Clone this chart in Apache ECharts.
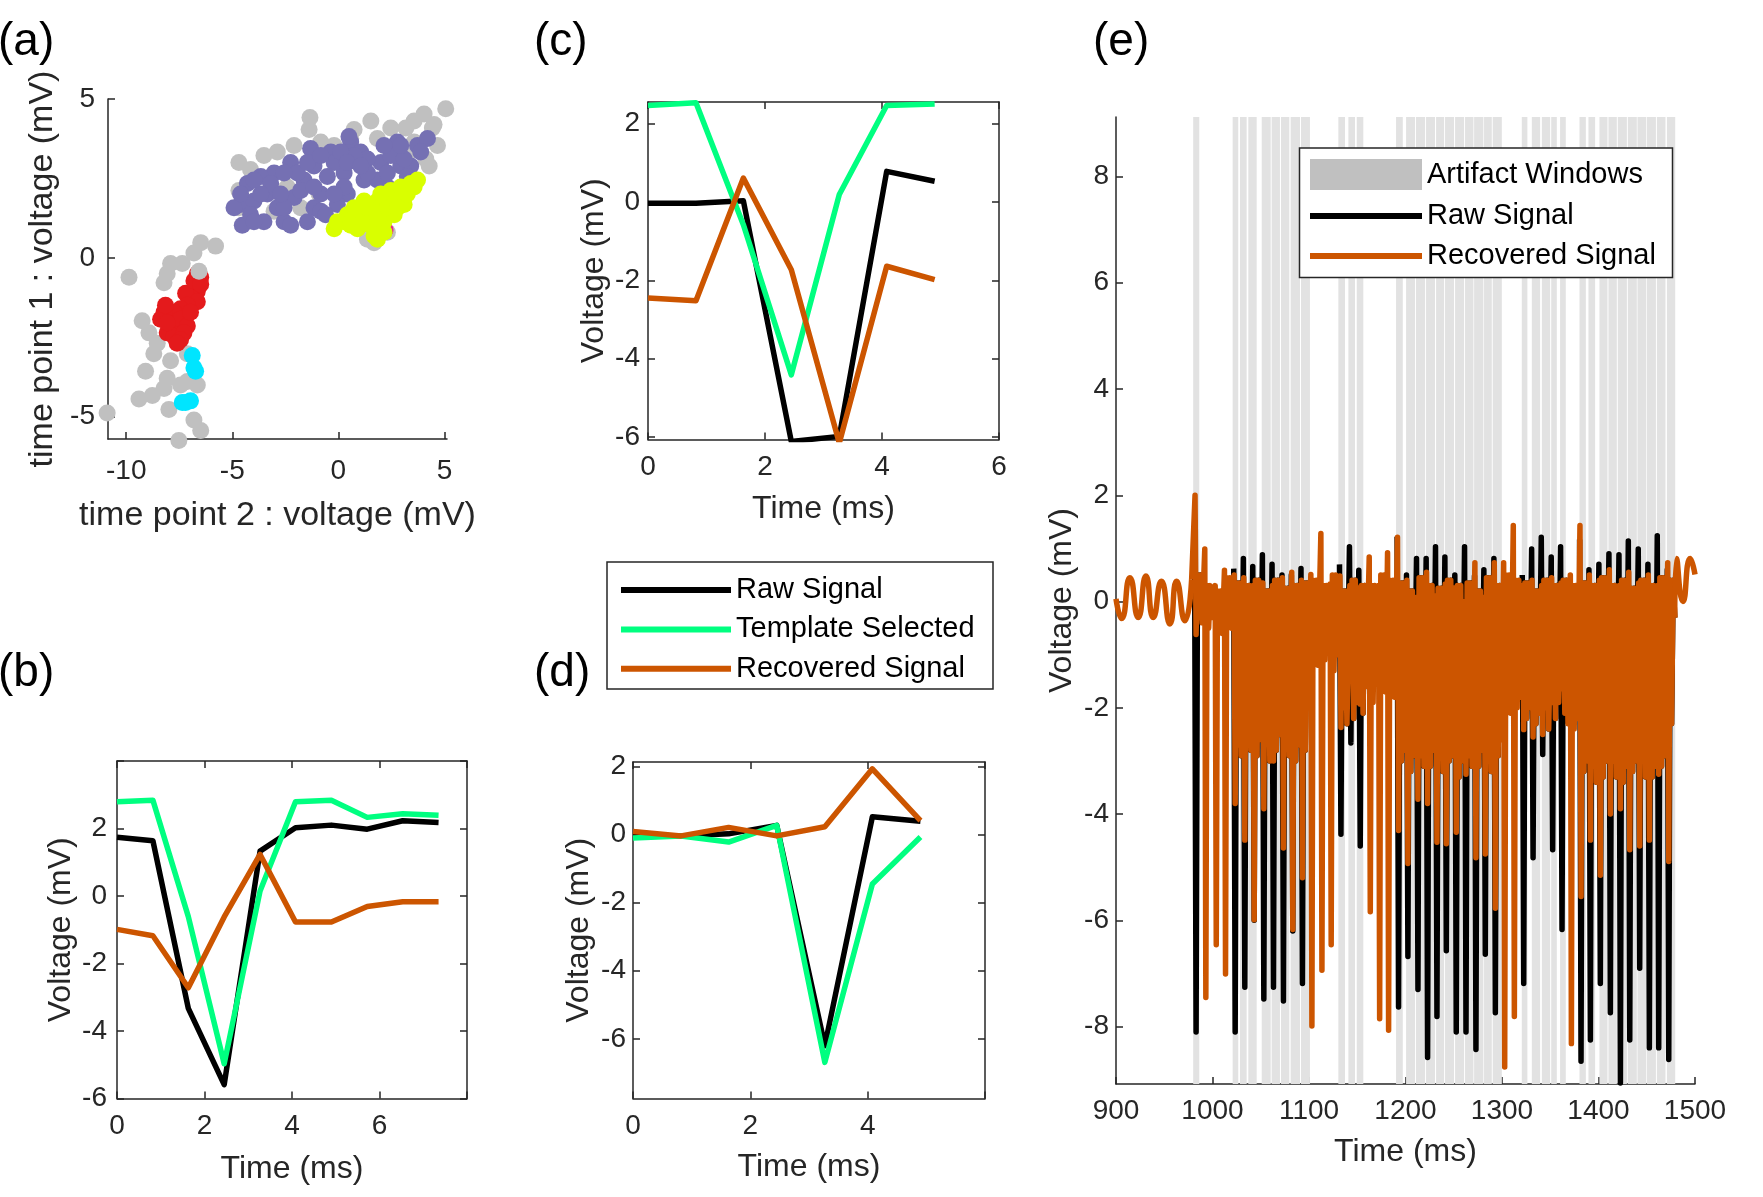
<!DOCTYPE html>
<html>
<head>
<meta charset="utf-8">
<script src="https://cdn.jsdelivr.net/npm/echarts@6/dist/echarts.min.js"></script>
<style>
html, body { margin: 0; padding: 0; background: #fff; }
#chart { width: 1763px; height: 1197px; }
</style>
</head>
<body>
<div id="chart"></div>
<script>
// ---- (a) feature space clusters: [time point 2, time point 1] in mV
var aGray = [[5.06,4.69],[4.04,4.53],[3.57,4.31],[4.43,4.09],[4.67,3.54],[4.12,3.11],[4.28,2.89],[3.57,3.65],
  [3.33,3.33],[2.47,4.09],[1.53,4.31],[0.74,4.04],[0.58,3.76],[1.84,3.76],[3.18,4.09],[4.51,4.2],[-1.34,4.42],
  [-1.38,4.04],[-0.83,3.65],[-0.2,3.54],[-2.09,3.54],[-2.88,3.33],[-3.51,3.22],[-4.69,3.0],[-4.14,2.78],
  [-4.69,1.58],[-4.69,2.12],[-1.78,1.58],[-3.03,1.47],[-2.41,2.23],[-0.91,2.01],[1.37,0.59],[2.31,0.81],
  [1.68,0.48],[-6.49,0.48],[-5.79,0.37],[-6.81,0.15],[-7.91,-0.18],[-7.36,-0.18],[-8.07,-0.5],[-8.22,-0.78],
  [-9.87,-0.61],[-9.25,-1.98],[-8.93,-2.36],[-8.54,-2.69],[-9.09,-3.57],[-7.91,-3.24],[-8.07,-3.79],
  [-6.65,-4.0],[-9.4,-4.44],[-8.77,-4.33],[-7.99,-4.77],[-10.9,-4.88],[-6.81,-5.1],[-6.49,-5.43],
  [-7.52,-5.75],[-7.44,-4.0],[-7.12,-3.89],[-8.22,-4.11],[-7.12,-3.02],[-8.7,-3.02]];
var aPurple = [[-4.53,1.03],[-4.61,1.68],[-4.29,2.34],[-3.51,1.14],[-2.56,1.14],[-3.35,2.01],[-3.98,1.79],
  [-2.88,1.58],[-2.09,1.9],[-1.15,1.58],[-0.83,1.47],[-1.62,2.45],[-2.25,3.0],[-1.31,3.44],[-0.36,3.33],
  [0.27,2.67],[0.58,3.65],[1.05,3.33],[0.42,2.01],[1.21,2.45],[2.0,3.0],[2.31,2.23],[2.94,2.89],[2.78,3.65],
  [3.73,3.54],[3.41,2.89],[4.2,3.76],[-1.93,2.67],[-3.03,2.67],[-3.66,2.56],[-2.56,1.58],[-0.2,3.0],
  [1.84,2.45],[-0.83,2.01],[-0.05,1.68],[-1.15,2.89],[-4.92,1.58],[-4.14,1.36],[-3.19,2.34],[1.37,3.11],
  [0.74,3.22],[2.47,3.22],[-0.52,2.56],
  [-3.98,1.14],[-2.25,1.03],[-1.46,1.14],[-0.6,1.36],[-4.61,2.01],[-3.66,2.01],[-2.72,2.01],[-1.78,2.12],
  [-1.15,2.23],[-3.98,2.45],[-2.56,2.67],[-1.46,3.0],[-0.83,3.22],[0.11,3.33],[0.42,3.0],[1.37,2.67],
  [2.31,2.67],[3.1,3.11],[3.88,3.33],[2.94,3.54],[0.27,2.23],[-0.2,2.01],[1.05,2.89],[3.25,2.56],
  [0.5,3.82],[2.15,3.54]];
var aPink = [[2.2,0.88]];
var aYellow = [[-0.2,0.92],[0.27,1.14],[0.74,1.25],[1.21,1.36],[1.68,1.47],[2.15,1.58],[2.63,1.79],[2.94,2.01],
  [3.41,2.34],[3.73,2.45],[0.9,0.92],[1.53,1.03],[2.15,1.14],[2.63,1.36],[3.1,1.68],[0.42,1.36],[1.84,1.79],
  [2.47,2.12],[2.94,2.23],[1.84,0.59],[2.15,0.81],[1.21,1.79],
  [-0.05,1.14],[0.58,1.03],[1.21,1.08],[1.84,1.25],[2.31,1.58],[2.78,1.58],[3.25,2.01],[3.57,2.23],
  [1.37,1.58],[2.0,2.01],[0.74,1.58],[1.68,0.7]];
var aRed = [[-6.65,-0.5],[-6.49,-0.61],[-6.65,-1.05],[-6.89,-1.27],[-7.2,-1.11],[-6.65,-1.38],[-7.12,-1.49],
  [-7.44,-1.6],[-7.75,-1.71],[-8.22,-1.71],[-8.38,-1.93],[-7.91,-2.14],[-7.44,-1.93],[-7.12,-2.14],
  [-8.07,-2.36],[-7.75,-2.47],[-7.28,-2.36],[-7.44,-2.58],[-6.81,-0.72],[-6.49,-0.83],[-6.97,-1.71],
  [-8.07,-2.04],[-7.6,-2.69],[-8.15,-1.49]];
var aCyan = [[-6.89,-3.07],[-6.81,-3.46],[-6.73,-3.57],[-7.2,-4.55],[-6.97,-4.5],[-7.36,-4.55]];
var aGrayTop = [[-6.57,-0.42]];

// ---- (b) (c) (d) single waveforms, time in ms, voltage in mV
var bTime = [0, 0.82, 1.63, 2.45, 3.27, 4.08, 4.9, 5.72, 6.53, 7.35];
var bRaw = [1.74, 1.64, -3.33, -5.59, 1.33, 2.02, 2.1, 1.98, 2.23, 2.18];
var bTemplate = [2.79, 2.84, -0.61, -4.97, 0.15, 2.79, 2.84, 2.33, 2.44, 2.39];
var bRecovered = [-0.99, -1.18, -2.72, -0.62, 1.23, -0.77, -0.77, -0.31, -0.17, -0.17];

var cTime = [0, 0.82, 1.63, 2.45, 3.27, 4.08, 4.9];
var cRaw = [-0.03, -0.03, 0.03, -6.11, -5.98, 0.78, 0.53];
var cTemplate = [2.46, 2.53, -0.58, -4.41, 0.19, 2.46, 2.5];
var cRecovered = [-2.45, -2.52, 0.61, -1.73, -6.15, -1.64, -1.98];

var dTime = [0, 0.82, 1.63, 2.45, 3.27, 4.08, 4.9];
var dRaw = [-0.04, -0.04, 0.02, 0.27, -6.2, 0.52, 0.39];
var dTemplate = [-0.1, -0.04, -0.22, 0.27, -6.69, -1.45, -0.07];
var dRecovered = [0.09, -0.04, 0.21, -0.04, 0.23, 1.93, 0.41];

// ---- (e) long recording
var eWindows = [[980,986.3],
  [1020.9,1026.7],[1028.5,1035.4],[1037.1,1045.8],[1051,1060.3],[1061.3,1069.9],[1071,1079.6],[1081,1090.7],[1091.7,1101],
  [1130.4,1137.3],[1140.8,1147.7],[1149.5,1156.3],
  [1190.2,1197.2],[1200.6,1209.9],[1210.9,1220.3],[1221.3,1230.6],[1231.7,1240],[1241,1250.3],[1251.4,1260.7],
  [1261.7,1270.4],[1271.1,1280.7],[1281.4,1289.4],[1290.4,1299.8],
  [1320.5,1326.3],[1330.9,1339.5],[1341.3,1349.9],[1351,1356.8],[1360.2,1366.1],
  [1380.3,1386.9],[1389.6,1396.5],[1401,1409.3],[1410.3,1419],[1420,1429.4],[1430.4,1439.7],[1440.4,1449.4],
  [1450.1,1459.5],[1460.5,1469.4],[1470.9,1479.5]];
var eStim = [982.8, 992.9, 1003.7, 1013.3, 1023.3, 1033.3, 1043, 1053, 1063, 1073.3, 1083, 1093, 1102.8, 1113.2,
  1122.8, 1132.9, 1143.2, 1152.9, 1163.3, 1173, 1182.3, 1192.6, 1202.3, 1212.7, 1222.7, 1232.4, 1242.1, 1252.4,
  1262.5, 1272.8, 1282.5, 1292.9, 1302.6, 1312.6, 1322.3, 1332, 1342, 1352.3, 1362, 1371.7, 1381.7, 1391.4,
  1401.7, 1412.1, 1422.5, 1432.2, 1442.5, 1452.5, 1462.2, 1472.6];
var eRawMin = [-8.1, null, null, null, -8.1, -7.26, -6.0, -7.48, -7.26, -7.52, -6.2, -7.19, null, null, null,
  -4.38, -2.66, -4.6, null, null, null, -7.63, -6.68, -7.3, -8.58, -7.81, -6.57, -8.1, -8.1, -8.43, -6.64, -7.74,
  null, null, -7.19, -4.82, -2.88, -4.67, -6.17, null, -8.65, -8.25, -7.19, -7.74, -9.06, -8.25, -6.9, -8.4,
  -8.4, -8.62];
var eRawPeak = [0.66, null, null, null, 0.62, 0.81, 0.66, 0.88, 0.7, 0.5, 0.5, 0.62, null, null, null,
  0.7, 1.03, 0.59, null, null, null, 1.22, 0.5, 0.81, 0.81, 1.03, 0.84, 0.5, 1.03, 0.48, 0.6, 0.81,
  null, null, 0.5, 0.99, 1.21, 0.84, 1.03, null, 1.17, 0.6, 0.7, 0.9, 0.88, 1.14, 0.99, 0.7, 1.24, 0.6];
var eRecMin = [-0.62, -7.45, -6.46, -7.01, -3.8, -4.49, -5.99, -3.9, -3.0, -4.64, -6.17, -5.2, -7.99, -6.94,
  -6.46, -2.37, -1.31, -1.93, -5.84, -7.85, -8.07, -4.31, -4.93, -3.72, -3.8, -4.53, -4.56, -4.34, -3.25, -4.82,
  -4.75, -5.77, -8.76, -7.81, -2.41, -2.55, -2.5, -1.9, -1.64, -8.32, -5.55, -4.49, -5.15, -4.0, -3.9, -4.67,
  -4.6, -4.49, -3.25, -4.89];
var eRecPeak = [2.0, 0.99, 0.3, 0.59, 0.5, 0.45, 0.3, 0.35, 0.3, 0.45, 0.55, 0.4, 0.51, 1.28, 0.33, 0.48, 0.3,
  0.26, 0.84, 0.3, 0.92, 1.21, 0.4, 0.08, 0.55, 0.11, 0.33, 0.26, 0.0, 0.73, 0.08, 0.73, 0.73, 1.43, 0.3, 0.4,
  0.3, 0.45, 0.35, 0.5, 1.43, 0.5, 0.4, 0.6, 0.3, 0.55, 0.35, 0.5, 0.3, 0.73];
var eRecLow1 = [-0.3, -0.5, -0.4, -0.3, -2.7, -2.5, -2.9, -2.6, -2.8, -2.4, -3.0, -2.8, -1.0, -1.1, -1.3, -2.0,
  -2.2, -2.1, -1.9, -1.5, -1.4, -3.0, -3.2, -2.9, -3.1, -2.8, -3.0, -3.3, -2.9, -3.1, -3.0, -2.9, -1.9, -2.0,
  -2.2, -2.3, -2.0, -2.2, -2.1, -2.4, -3.2, -3.1, -3.3, -3.0, -3.4, -3.2, -3.0, -3.3, -3.1, -2.3];
var eRecHigh = [0.5, 0.3, 0.2, 0.45, 0.35, 0.3, 0.4, 0.2, 0.4, 0.25, 0.3, 0.35, 0.4, 0.3, 0.5, 0.2, 0.4, 0.3,
  0.3, 0.5, 0.4, 0.35, 0.2, 0.45, 0.3, 0.25, 0.4, 0.3, 0.35, 0.2, 0.45, 0.3, 0.5, 0.4, 0.35, 0.2, 0.4, 0.3,
  0.4, 0.3, 0.35, 0.3, 0.45, 0.3, 0.4, 0.25, 0.4, 0.3, 0.45, 0.4];
var eRecLow2 = [-0.4, -0.3, -0.6, -0.5, -2.9, -2.8, -2.6, -3.0, -2.5, -2.9, -2.7, -1.2, -1.2, -0.9, -1.0, -2.3,
  -1.9, -1.6, -1.2, -1.7, -1.8, -2.8, -2.9, -3.1, -2.8, -3.2, -2.9, -3.0, -3.1, -2.8, -3.2, -2.6, -2.1, -1.8,
  -2.0, -2.1, -2.4, -1.9, -2.3, -2.2, -3.0, -3.4, -3.0, -3.3, -3.1, -3.0, -3.3, -3.1, -2.9, -0.3];
var ePreTime = [900, 905.8, 914.4, 923, 931, 938.6, 947, 955.9, 962.8, 971.4, 978.4];
var ePreVal = [0.05, -0.32, 0.45, -0.3, 0.48, -0.3, 0.38, -0.42, 0.38, -0.36, 0.42];
var eTailTime = [1481, 1487.5, 1495, 1500];
var eTailVal = [0.81, 0.0, 0.81, 0.51];
var eYMin = -9.08, eYMax = 9.12;

// ---- styling
var FONT = '"Liberation Sans", Arial, Helvetica, sans-serif';
var AXC = '#262626';
var C_RAW = '#000000', C_TPL = '#00ff80', C_REC = '#cc5500';

function zip(xs, ys) {
  var out = [];
  for (var i = 0; i < xs.length; i++) out.push([xs[i], ys[i]]);
  return out;
}

function axis(grid, pos, min, max, ticks, labels, margin, name, gap, nameSize) {
  var o = {
    type: 'value', gridIndex: grid, position: pos, min: min, max: max,
    axisLine: { show: true, onZero: false, lineStyle: { color: AXC, width: 1.5 } },
    axisTick: { show: true, inside: true, length: 7, customValues: ticks, lineStyle: { color: AXC, width: 1.5 } },
    axisLabel: { show: labels != null, customValues: labels || [], margin: margin || 8,
      color: AXC, fontSize: 28, fontFamily: FONT,
      formatter: function (v) { return String(v); } },
    splitLine: { show: false }
  };
  if (name) {
    o.name = name;
    o.nameLocation = 'middle';
    o.nameGap = gap;
    o.nameTextStyle = { color: AXC, fontSize: nameSize || 32, fontFamily: FONT };
  }
  return o;
}

function lineSeries(name, color, xi, data, extra) {
  var s = {
    type: 'line', name: name, xAxisIndex: xi, yAxisIndex: xi, data: data,
    showSymbol: false, symbol: 'none', silent: true,
    itemStyle: { color: color },
    lineStyle: { color: color, width: 5.5, join: 'round' }
  };
  for (var k in extra) s[k] = extra[k];
  return s;
}

function scatter(data, color, size) {
  return {
    type: 'scatter', xAxisIndex: 0, yAxisIndex: 0, data: data, symbolSize: size || 17,
    itemStyle: { color: color, opacity: 1 }, silent: true, clip: false
  };
}

// (e) traces built from the per-stimulus readings
var recMain = [[ePreTime[ePreTime.length - 1], ePreVal[ePreVal.length - 1]]];
var rawMain = [];
for (var i = 0; i < eStim.length; i++) {
  var t = eStim[i];
  recMain.push([t - 0.9, eRecPeak[i]], [t + 0.2, eRecMin[i]], [t + 1.4, eRecHigh[i]],
    [t + 3.1, eRecLow1[i]], [t + 4.8, eRecHigh[i]], [t + 6.4, eRecLow2[i]]);
  if (eRawMin[i] == null) {
    rawMain.push([t, null]);
  } else {
    rawMain.push([t - 1.3, eRawPeak[i]], [t + 0.2, eRawMin[i]], [t + 1.6, eRecHigh[i]],
      [t + 3.1, eRecLow1[i]], [t + 4.8, eRecHigh[i]], [t + 6.4, eRecLow2[i]]);
  }
}
var recTail = [recMain[recMain.length - 1]].concat(zip(eTailTime, eTailVal));

var chart = echarts.init(document.getElementById('chart'), null, { renderer: 'canvas', width: 1763, height: 1197 });

var legendText = { color: '#000', fontSize: 29, fontFamily: FONT, lineHeight: 30 };
function legendItem(name, left, top, w, h) {
  return {
    show: true, data: [{ name: name, icon: 'rect' }], left: left, top: top, padding: 0,
    itemWidth: w, itemHeight: h, selectedMode: false, textStyle: legendText, z: 6
  };
}

var option = {
  animation: false,
  backgroundColor: '#fff',
  textStyle: { fontFamily: FONT },
  grid: [
    { left: 108, top: 99, width: 339, height: 340, outerBoundsMode: 'none', containLabel: false },
    { left: 117, top: 761, width: 350, height: 337.5, outerBoundsMode: 'none', containLabel: false },
    { left: 648, top: 102, width: 351, height: 337.5, outerBoundsMode: 'none', containLabel: false },
    { left: 633, top: 762, width: 352, height: 336.5, outerBoundsMode: 'none', containLabel: false },
    { left: 1116, top: 117, width: 579, height: 967, outerBoundsMode: 'none', containLabel: false }
  ],
  xAxis: [
    axis(0, 'bottom', -10.86, 5.12, [-10, -5, 0, 5], [-10, -5, 0, 5], 18, 'time point 2 : voltage (mV)', 60, 34),
    axis(1, 'bottom', 0, 8, [0, 2, 4, 6, 8], [0, 2, 4, 6], 14, 'Time (ms)', 55),
    axis(1, 'top', 0, 8, [0, 2, 4, 6, 8], null),
    axis(2, 'bottom', 0, 6, [0, 2, 4, 6], [0, 2, 4, 6], 14, 'Time (ms)', 54),
    axis(2, 'top', 0, 6, [0, 2, 4, 6], null),
    axis(3, 'bottom', 0, 6, [0, 2, 4, 6], [0, 2, 4], 14, 'Time (ms)', 53),
    axis(3, 'top', 0, 6, [0, 2, 4, 6], null),
    axis(4, 'bottom', 900, 1500, [900, 1000, 1100, 1200, 1300, 1400, 1500],
      [900, 1000, 1100, 1200, 1300, 1400, 1500], 13, 'Time (ms)', 52)
  ],
  yAxis: [
    axis(0, 'left', -5.7, 5, [-5, 0, 5], [-5, 0, 5], 13, 'time point 1 : voltage (mV)', 48, 34),
    axis(1, 'left', -6, 4, [-6, -4, -2, 0, 2, 4], [-6, -4, -2, 0, 2], 10, 'Voltage (mV)', 40),
    axis(1, 'right', -6, 4, [-6, -4, -2, 0, 2, 4], null),
    axis(2, 'left', -6.06, 2.55, [-6, -4, -2, 0, 2], [-6, -4, -2, 0, 2], 8, 'Voltage (mV)', 38),
    axis(2, 'right', -6.06, 2.55, [-6, -4, -2, 0, 2], null),
    axis(3, 'left', -7.75, 2.13, [-6, -4, -2, 0, 2], [-6, -4, -2, 0, 2], 7, 'Voltage (mV)', 38),
    axis(3, 'right', -7.75, 2.13, [-6, -4, -2, 0, 2], null),
    axis(4, 'left', eYMin, eYMax, [-8, -6, -4, -2, 0, 2, 4, 6, 8], [-8, -6, -4, -2, 0, 2, 4, 6, 8], 7, 'Voltage (mV)', 38)
  ],
  legend: [
    legendItem('Raw Signal', 621, 575, 110, 6),
    legendItem('Template Selected', 621, 614.4, 110, 6),
    legendItem('Recovered Signal', 621, 653.8, 110, 6),
    {
      show: true, data: [{ name: 'Artifact Windows', icon: 'rect', itemStyle: { color: '#c0c0c0' } }],
      left: 1310, top: 159, padding: 0, itemWidth: 112, itemHeight: 31, selectedMode: false,
      textStyle: legendText, z: 6
    },
    legendItem('Raw Signal', 1310, 201, 112, 6),
    legendItem('Recovered Signal', 1310, 241, 112, 6)
  ],
  graphic: [
    { type: 'rect', z: 5, shape: { x: 607, y: 562, width: 386, height: 127 },
      style: { fill: '#fff', stroke: AXC, lineWidth: 1.5 } },
    { type: 'rect', z: 5, shape: { x: 1299.5, y: 148, width: 373, height: 129.5 },
      style: { fill: '#fff', stroke: AXC, lineWidth: 1.5 } },
    { type: 'text', z: 5, x: -2, y: 42, style: { text: '(a)', fontSize: 46, fontFamily: FONT, fill: '#000', verticalAlign: 'middle' } },
    { type: 'text', z: 5, x: -2, y: 673, style: { text: '(b)', fontSize: 46, fontFamily: FONT, fill: '#000', verticalAlign: 'middle' } },
    { type: 'text', z: 5, x: 534, y: 42, style: { text: '(c)', fontSize: 46, fontFamily: FONT, fill: '#000', verticalAlign: 'middle' } },
    { type: 'text', z: 5, x: 534, y: 673, style: { text: '(d)', fontSize: 46, fontFamily: FONT, fill: '#000', verticalAlign: 'middle' } },
    { type: 'text', z: 5, x: 1093, y: 42, style: { text: '(e)', fontSize: 46, fontFamily: FONT, fill: '#000', verticalAlign: 'middle' } }
  ],
  series: [
    scatter(aGray, '#c0c0c0'),
    scatter(aPurple, '#7570b3'),
    scatter(aPink, '#e7298a'),
    scatter(aYellow, '#d9ff00'),
    scatter(aRed, '#e41a1c'),
    scatter(aCyan, '#00e5ff'),
    scatter(aGrayTop, '#c0c0c0'),

    lineSeries('Raw Signal', C_RAW, 1, zip(bTime, bRaw)),
    lineSeries('Template Selected', C_TPL, 1, zip(bTime, bTemplate)),
    lineSeries('Recovered Signal', C_REC, 1, zip(bTime, bRecovered)),

    lineSeries('Raw Signal', C_RAW, 3, zip(cTime, cRaw)),
    lineSeries('Template Selected', C_TPL, 3, zip(cTime, cTemplate)),
    lineSeries('Recovered Signal', C_REC, 3, zip(cTime, cRecovered)),

    lineSeries('Raw Signal', C_RAW, 5, zip(dTime, dRaw)),
    lineSeries('Template Selected', C_TPL, 5, zip(dTime, dTemplate)),
    lineSeries('Recovered Signal', C_REC, 5, zip(dTime, dRecovered)),

    {
      type: 'custom', name: 'Artifact Windows', xAxisIndex: 7, yAxisIndex: 7, silent: true,
      itemStyle: { color: '#c0c0c0' },
      data: eWindows, encode: { x: [0, 1] },
      renderItem: function (params, api) {
        var p0 = api.coord([api.value(0), eYMax]);
        var p1 = api.coord([api.value(1), eYMin]);
        return {
          type: 'rect',
          shape: { x: p0[0], y: p0[1], width: p1[0] - p0[0], height: p1[1] - p0[1] },
          style: { fill: '#e2e2e2' }
        };
      }
    },
    lineSeries('Raw Signal', C_RAW, 7, rawMain, { lineStyle: { color: C_RAW, width: 5.5, join: 'round' } }),
    lineSeries('Recovered Signal', C_REC, 7, zip(ePreTime, ePreVal), { smooth: 0.6, lineStyle: { color: C_REC, width: 5.5, join: 'round' } }),
    lineSeries('Recovered Signal', C_REC, 7, recMain, { lineStyle: { color: C_REC, width: 5.5, join: 'round' } }),
    lineSeries('Recovered Signal', C_REC, 7, recTail, { smooth: 0.6, lineStyle: { color: C_REC, width: 5.5, join: 'round' } })
  ]
};

chart.setOption(option);
</script>
</body>
</html>
